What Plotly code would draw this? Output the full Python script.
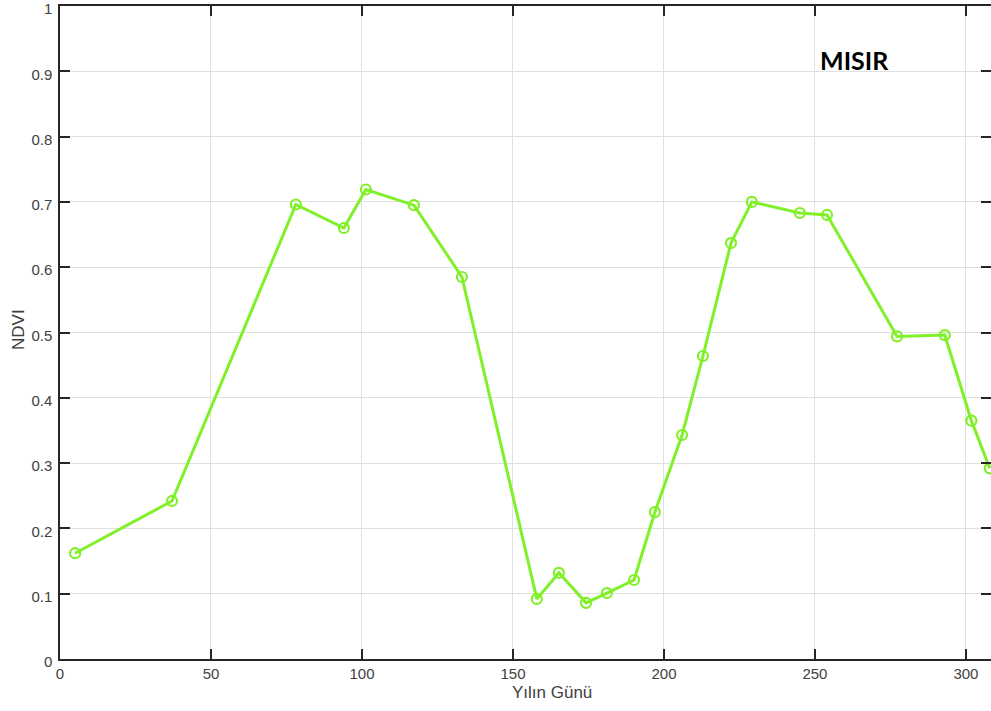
import plotly.graph_objects as go

# Day of year and NDVI values
day_of_year = [5.0, 37.1, 78.1, 94.0, 101.3, 117.2, 133.1, 157.9, 165.2, 174.2, 181.1,
               190.1, 197.0, 206.0, 212.9, 222.2, 229.1, 245.0, 254.0, 277.2, 293.0,
               301.8, 307.9]
ndvi = [0.162, 0.242, 0.696, 0.660, 0.719, 0.695, 0.585, 0.092, 0.132, 0.086, 0.101,
        0.121, 0.225, 0.343, 0.464, 0.637, 0.700, 0.683, 0.680, 0.494, 0.496,
        0.365, 0.292]

x_ticks = [0, 50, 100, 150, 200, 250, 300]
y_ticks = [0, 0.1, 0.2, 0.3, 0.4, 0.5, 0.6, 0.7, 0.8, 0.9, 1]
y_tick_labels = ["0", "0.1", "0.2", "0.3", "0.4", "0.5", "0.6", "0.7", "0.8", "0.9", "1"]

GREEN = "rgb(128,240,40)"
AX = "#262626"
TXT = "#404040"

W, H = 991, 711
L, R, T, B = 60, 0, 6, 52
PW, PH = W - L - R, H - T - B

fig = go.Figure()
fig.add_trace(go.Scatter(
    x=day_of_year, y=ndvi, mode="lines+markers",
    line=dict(color=GREEN, width=3),
    marker=dict(symbol="circle-open", size=10, color=GREEN, line=dict(width=2.2, color=GREEN)),
    showlegend=False, cliponaxis=True, hoverinfo="skip",
))

axis_common = dict(
    showgrid=True, gridcolor="#e0e0e0", gridwidth=1, zeroline=False,
    showline=True, linecolor=AX, linewidth=1.5, mirror="ticks",
    ticks="inside", ticklen=10, tickcolor=AX, tickwidth=1.5,
    tickfont=dict(size=15, color=TXT), ticklabeloverflow="allow",
)

fig.update_layout(
    width=W, height=H,
    margin=dict(l=L, r=R, t=T, b=B, autoexpand=False),
    paper_bgcolor="white", plot_bgcolor="white",
    font=dict(family="Liberation Sans, Arial, sans-serif", size=15, color=TXT),
    xaxis=dict(range=[0, 308.3], tickvals=x_ticks, ticktext=[str(v) for v in x_ticks],
               **axis_common),
    yaxis=dict(range=[0, 1], tickvals=y_ticks, ticktext=y_tick_labels,
               ticklabelstandoff=3, ticklabelshift=3, **axis_common),
    annotations=[
        dict(text="<b>MISIR</b>", x=263, y=0.918, xref="x", yref="y", showarrow=False,
             font=dict(family="Lato, Open Sans, sans-serif", size=25, color="black"),
             xanchor="center", yanchor="middle"),
        dict(text="Yılın Günü", x=(552 - L) / PW, y=((H - 692) - B) / PH,
             xref="paper", yref="paper", showarrow=False,
             font=dict(size=17, color=TXT), xanchor="center", yanchor="middle"),
        dict(text="NDVI", x=(18 - L) / PW, y=((H - 330) - B) / PH,
             xref="paper", yref="paper", showarrow=False, textangle=-90,
             font=dict(size=17, color=TXT), xanchor="center", yanchor="middle"),
    ],
)

fig.write_html("out.html", config={"displayModeBar": False},
               post_script="document.body.style.margin='0';document.body.style.overflow='hidden';")
